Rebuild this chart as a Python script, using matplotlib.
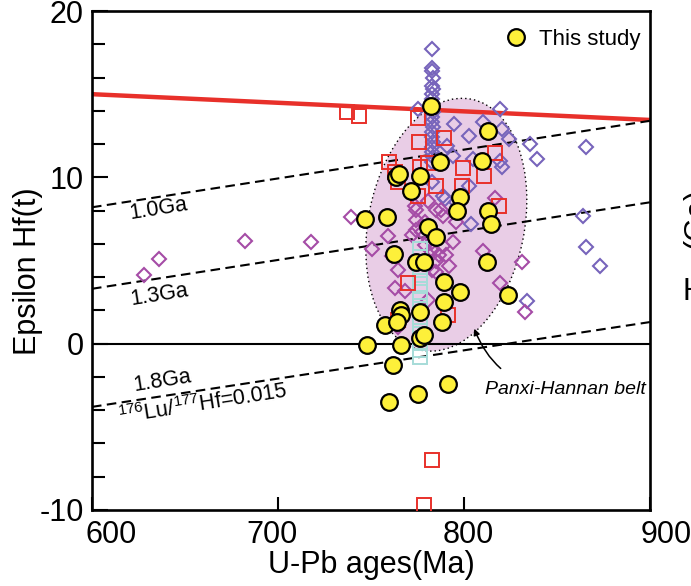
import numpy as np
import matplotlib
matplotlib.use('Agg')
from matplotlib import pyplot as plt
from matplotlib.patches import Ellipse
from matplotlib.transforms import ScaledTranslation

plt.rcParams['font.family'] = ['Liberation Sans', 'DejaVu Sans']
plt.rcParams['axes.unicode_minus'] = False
plt.rcParams['mathtext.fontset'] = 'custom'
plt.rcParams['mathtext.rm'] = 'Liberation Sans'

# Zircons from this study (U-Pb age in Ma, epsilon Hf(t))
study_age = [782.5, 813.1, 786.9, 809.8, 763.4, 765.0, 776.5, 771.6, 797.8, 796.2,
             813.1, 814.7, 747.0, 758.5, 780.9, 785.2, 762.3, 774.3, 778.7, 812.5,
             789.1, 797.8, 823.5, 789.1, 776.5, 765.6, 766.1, 757.4, 763.9, 788.0,
             776.5, 778.7, 748.1, 766.1, 761.7, 791.2, 775.4, 759.5]
study_eps = [14.3, 12.8, 10.9, 11.0, 10.0, 10.2, 10.1, 9.2, 8.8, 8.0,
             8.0, 7.2, 7.5, 7.6, 7.0, 6.4, 5.4, 4.9, 4.9, 4.9,
             3.7, 3.1, 2.9, 2.5, 1.9, 2.0, 1.75, 1.1, 1.3, 1.3,
             0.35, 0.5, -0.1, -0.1, -1.3, -2.4, -3.0, -3.5]

# Published data, red squares
red_age = [737.1, 743.7, 775.4, 775.9, 789.1, 816.4, 759.5, 762.8, 776.5, 780.9,
           799.4, 810.9, 764.5, 785.2, 798.9, 775.4, 818.6, 769.9, 791.2, 764.5,
           783.0, 778.7]
red_eps = [13.9, 13.7, 13.55, 12.1, 12.35, 11.45, 10.95, 10.3, 10.6, 10.85,
           10.55, 10.1, 9.7, 9.45, 9.5, 8.85, 8.3, 3.65, 1.75, 1.4,
           -7.0, -9.7]

# Published data, cyan squares
cyan_age = [776.5] * 14
cyan_eps = [5.7, 5.2, 4.6, 4.1, 3.6, 3.1, 2.6, 2.1, 1.6, 1.1, 0.6, 0.1, -0.4, -0.8]

# Published data, blue-violet diamonds
blue_age = [783.0, 783.0, 782.6, 783.4, 782.8, 783.2, 783.0, 782.6, 783.4, 783.0,
            782.6, 783.2, 782.8, 783.0, 783.4, 782.6, 783.0, 783.2, 782.8,
            775.4, 794.5, 802.7, 810.4, 819.1, 820.2, 824.0, 835.5, 839.3, 819.1,
            820.2, 794.0, 804.9, 802.7, 788.5, 795.6, 783.0, 865.6, 863.9, 865.6,
            873.2, 833.9, 803.8, 791.0, 790.0]
blue_eps = [17.7, 16.6, 16.4, 16.0, 15.5, 15.3, 15.0, 14.7, 13.9, 13.6,
            13.3, 13.0, 12.7, 12.4, 12.1, 11.8, 11.5, 11.2, 10.9,
            14.1, 13.2, 12.5, 13.3, 14.1, 12.9, 12.3, 12.0, 11.1, 11.0,
            10.6, 11.3, 11.1, 9.5, 8.9, 8.5, 9.7, 11.8, 7.65, 5.8,
            4.65, 2.55, 7.2, 11.9, 8.7]

# Published data, magenta diamonds
mag_age = [627.9, 636.1, 682.5, 717.5, 739.3, 759.0, 750.8, 761.2, 764.5, 774.3,
           774.3, 774.3, 772.1, 777.6, 783.0, 783.0, 781.9, 784.7, 783.0, 788.5,
           790.1, 794.0, 795.6, 791.8, 810.4, 831.1, 819.1, 784.7, 768.3, 780.9,
           788.5, 784.7, 779.2, 773.8, 780.9, 787.4, 816.4, 764.5, 832.8, 786.3,
           779.2, 762.8]
mag_eps = [4.15, 5.1, 6.2, 6.1, 7.6, 6.45, 5.7, 5.25, 4.45, 8.05,
           7.45, 6.85, 6.55, 6.7, 6.1, 5.65, 5.25, 4.95, 4.45, 5.85,
           5.35, 6.1, 7.3, 4.65, 5.55, 4.9, 3.65, 4.3, 3.15, 2.65,
           7.65, 8.05, 7.3, 8.25, 8.55, 8.05, 8.75, 1.0, 1.9, 5.35,
           5.95, 3.35]

# Depleted mantle and crustal evolution lines (176Lu/177Hf = 0.015)
line_age = [600, 900]
dm_eps = [15.0, 13.45]
crust_1_0 = [8.2, 13.4]
crust_1_3 = [3.3, 8.5]
crust_1_8 = [-3.8, 1.3]

x_ticks = [600, 700, 800, 900]
x_tick_shift = [19, -6, 4, 16]
y_ticks = [-10, 0, 10, 20]

fig = plt.figure(figsize=(6.91, 5.86), dpi=100)
ax = fig.add_axes([0.1331, 0.1297, 0.8076, 0.8515])

# Panxi-Hannan belt field
belt = Ellipse((0, 0), 1.56, 2.56, angle=-11.3, facecolor='#e9cde6',
               edgecolor='black', linestyle=(0, (1, 2.2)), linewidth=1.0,
               transform=fig.dpi_scale_trans + ScaledTranslation(790.5, 7.15, ax.transData),
               zorder=1)
ax.add_patch(belt)

ax.axhline(0, color='black', lw=1.5, zorder=2)
ax.plot(line_age, dm_eps, color='#e8302a', lw=3.2, zorder=2, solid_capstyle='butt')
for vals in (crust_1_0, crust_1_3, crust_1_8):
    ax.plot(line_age, vals, color='black', lw=1.5, dashes=(4.6, 2.6), zorder=2)

ax.plot(blue_age, blue_eps, 'D', ms=7.4, mfc='none', mec='#7764bb', mew=1.5, ls='none', zorder=3)
ax.plot(mag_age, mag_eps, 'D', ms=7.4, mfc='none', mec='#a54ca6', mew=1.5, ls='none', zorder=3)
ax.plot(cyan_age, cyan_eps, 's', ms=9.5, mfc='none', mec='#a6dcd8', mew=1.4, ls='none', zorder=3)
ax.plot(red_age, red_eps, 's', ms=10, mfc='none', mec='#e8302a', mew=1.4, ls='none', zorder=4)
ax.plot(study_age, study_eps, 'o', ms=12, mfc='#fdf03a', mec='black', mew=1.6, ls='none',
        zorder=5, label='This study')

ax.set_xlim(600, 900)
ax.set_ylim(-10, 20)
ax.set_xticks(x_ticks)
ax.set_yticks(y_ticks)
ax.set_yticks(np.arange(-8, 20, 2), minor=True)
ax.tick_params(axis='both', which='both', direction='in', width=1.5, labelsize=22)
ax.tick_params(axis='y', which='major', length=11.5, pad=6)
ax.tick_params(axis='y', which='minor', length=9.5)
ax.tick_params(axis='x', which='major', length=9.5, labelbottom=False)
for side in ax.spines.values():
    side.set_linewidth(1.9)

for val, shift in zip(x_ticks, x_tick_shift):
    ax.annotate(str(val), xy=(val, 0), xycoords=('data', 'axes fraction'),
                xytext=(shift, -10), textcoords='offset pixels',
                ha='center', va='top', fontsize=22, annotation_clip=False)

ax.set_xlabel('U-Pb ages(Ma)', fontsize=22, labelpad=29)
ax.set_ylabel('Epsilon Hf(t)', fontsize=22)
ax.yaxis.set_label_coords(-0.088, 0.479)

ax.text(636, 8.1, '1.0Ga', fontsize=15.5, rotation=9, ha='center', va='center')
ax.text(636, 2.9, '1.3Ga', fontsize=15.5, rotation=9, ha='center', va='center')
ax.text(638, -2.25, '1.8Ga', fontsize=15.5, rotation=9, ha='center', va='center')
ax.text(659.5, -3.65, r'$^{176}$Lu/$^{177}$Hf=0.015', fontsize=15.5, rotation=9,
        ha='center', va='center')

ax.annotate('Panxi-Hannan belt', xy=(805.5, 0.9), xytext=(854.5, -2.75),
            fontsize=14, style='italic', ha='center', va='center',
            arrowprops=dict(arrowstyle='-|>', color='black', lw=1.1,
                            shrinkA=12, shrinkB=0, mutation_scale=9,
                            connectionstyle='arc3,rad=-0.35'))

ax.legend(loc='upper right', frameon=False, fontsize=16, handlelength=1.0,
          handletextpad=0.5, borderaxespad=0.3, bbox_to_anchor=(1.01, 0.995))

# Fragments of the neighbouring panel at the right edge
fig.text(0.987, 0.628, '(Ga)', rotation=90, fontsize=22, ha='left', va='center')
fig.text(0.988, 0.502, 'H', fontsize=22, ha='left', va='center')

fig.savefig('out.png', dpi=100)
